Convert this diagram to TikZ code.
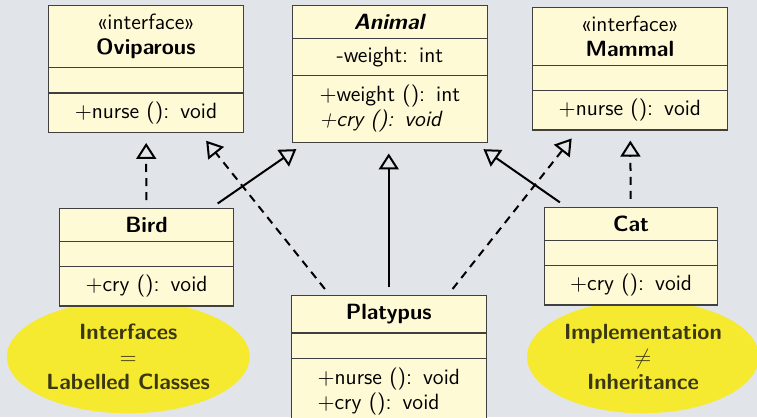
\documentclass[tikz,border=0pt]{standalone}
\usetikzlibrary{arrows.meta, shapes.multipart, shapes.geometric, calc, positioning}
\definecolor{slidebg}{RGB}{225,229,233}
\definecolor{classfill}{RGB}{255,250,214}
\definecolor{notefill}{RGB}{246,234,48}
\definecolor{notetext}{RGB}{58,56,16}
\newcommand{\umlop}[1]{$+$#1}
\newcommand{\umlops}[1]{\begin{tabular}{@{}l@{}}#1\end{tabular}}
\newcommand{\noattr}{\rule{0pt}{4pt}}

\begin{document}
\begin{tikzpicture}[
			font=\sffamily\fontsize{11}{12.5}\selectfont,
			umlclass/.style={rectangle split, rectangle split parts=3,
				draw=black!75, line width=0.6pt, fill=classfill,
				text width=#1, align=center,
				inner xsep=2pt, inner ysep=4pt, anchor=north},
			umlclass/.default=3.28cm,
			note/.style={ellipse, fill=notefill, text=notetext,
				font=\sffamily\bfseries\fontsize{11}{12.5}\selectfont,
				align=center, inner sep=0pt, minimum height=1.98cm},
			inherit/.style={draw, line width=1pt,
				-{Triangle[open, length=8pt, width=10pt]},
				shorten <=4pt, shorten >=5pt},
			realize/.style={inherit, dash pattern=on 4pt off 3pt}]

			\fill[slidebg] (0,0) rectangle (13.28,-7.316);
			\useasboundingbox (0,0) rectangle (13.28,-7.316);

			% notes
			\node[note, minimum width=4.26cm] at (2.25,-6.26) (eq) {Interfaces\\$=$\\Labelled Classes};
			\node[note, minimum width=4.07cm] at (11.28,-6.26) (neq) {Implementation\\$\neq$\\Inheritance};

			% interfaces and base class
			\node[umlclass] at (2.56,-0.09) (Ovi)
				{«interface»\\\textbf{Oviparous} \nodepart{second}\noattr \nodepart{third} \umlop{nurse (): void}};
			\node[umlclass] at (6.84,-0.09) (Animal)
				{\textbf{\textit{Animal}} \nodepart{second} -weight: int
				 \nodepart{third} \umlops{\umlop{weight (): int}\\\textit{+cry (): void}}};
			\node[umlclass] at (11.05,-0.12) (Mammal)
				{«interface»\\\textbf{Mammal} \nodepart{second}\noattr \nodepart{third} \umlop{nurse (): void}};

			% concrete classes
			\node[umlclass=2.9cm] at (2.57,-3.65) (Bird)
				{\textbf{Bird} \nodepart{second}\noattr \nodepart{third} \umlop{cry (): void}};
			\node[umlclass] at (6.82,-5.18) (Platypus)
				{\textbf{Platypus} \nodepart{second}\noattr \nodepart{third} \umlops{\umlop{nurse (): void}\\\umlop{cry (): void}}};
			\node[umlclass=2.9cm] at (11.07,-3.63) (Cat)
				{\textbf{Cat} \nodepart{second}\noattr \nodepart{third} \umlop{cry (): void}};

			\draw[realize] (Bird) -- (Ovi);
			\draw[inherit] ($(Bird.north)!0.74!(Bird.north east)$) -- ($(Animal.south)!0.87!(Animal.south west)$);
			\draw[realize] ($(Platypus.north)!0.6!(Platypus.north west)$) -- ($(Ovi.south)!0.55!(Ovi.south east)$);
			\draw[inherit] (Platypus.north) -- (Platypus.north |- Animal.south);
			\draw[realize] ($(Platypus.north)!0.6!(Platypus.north east)$) -- ($(Mammal.south)!0.53!(Mammal.south west)$);
			\draw[inherit] ($(Cat.north)!0.74!(Cat.north west)$) -- ($(Animal.south)!0.87!(Animal.south east)$);
			\draw[realize] (Cat) -- (Mammal);
		\end{tikzpicture}
\end{document}
